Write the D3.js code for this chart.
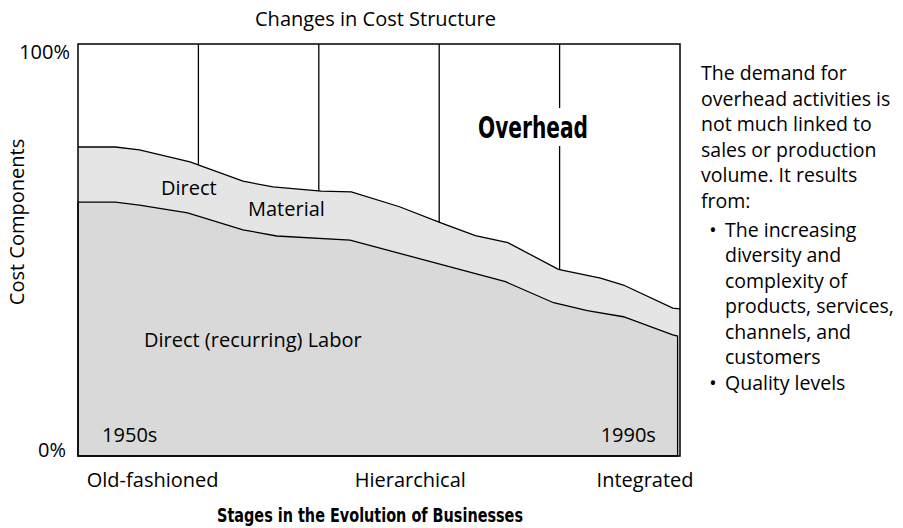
<!DOCTYPE html>
<html>
<head>
<meta charset="utf-8">
<script src="https://cdn.jsdelivr.net/npm/d3@7"></script>
<style>
  html, body { margin: 0; padding: 0; background: #fff; }
  text { font-family: "Open Sans", sans-serif; fill: #000; }
  .narrow { font-family: "Liberation Sans Narrow", "DejaVu Sans Condensed", sans-serif; font-weight: bold; font-stretch: condensed; }
</style>
</head>
<body>
<div id="chart"></div>
<script>
// share of costs (%), x is the year
const materialYears = [1950, 1953.1, 1955.1, 1959.3, 1963.7, 1966.2, 1970.2, 1972.7, 1976.7, 1980.2, 1983.0, 1985.7, 1989.9, 1993.4, 1995.3, 1999.4, 2000];
const materialTop   = [75.0, 75.0, 74.3, 71.4, 66.7, 65.3, 64.3, 64.1, 60.5, 56.5, 53.5, 51.8, 45.3, 43.2, 41.5, 35.9, 35.7];

const laborYears = [1950, 1953.1, 1955.1, 1959.1, 1963.7, 1966.5, 1972.6, 1985.5, 1989.5, 1992.3, 1995.3, 1999.4, 1999.8];
const laborTop   = [61.6, 61.6, 60.9, 59.0, 54.9, 53.4, 52.4, 42.3, 37.2, 35.3, 33.8, 29.4, 29.1];

const decades = [1960, 1970, 1980, 1990];
const yTicks = [100, 0];
const stages = ["Old-fashioned", "Hierarchical", "Integrated"];
const stageYears = [1956.2, 1977.6, 1997.1];

const noteLines = [
  "The demand for",
  "overhead activities is",
  "not much linked to",
  "sales or production",
  "volume.  It results",
  "from:"
];
const bulletLines = [
  ["The increasing", "diversity and", "complexity of", "products, services,", "channels, and", "customers"],
  ["Quality levels"]
];

const width = 903, height = 528;
const svg = d3.select("#chart").append("svg").attr("width", width).attr("height", height);

const x = d3.scaleLinear().domain([1950, 2000]).range([78, 680]);
const y = d3.scaleLinear().domain([0, 100]).range([456, 44]);

const material = materialYears.map((yr, i) => ({ yr, v: materialTop[i] }));
const labor = laborYears.map((yr, i) => ({ yr, v: laborTop[i] }));

const area = d3.area().x(d => x(d.yr)).y0(y(0)).y1(d => y(d.v));
const line = d3.line().x(d => x(d.yr)).y(d => y(d.v));

svg.append("path").datum(material).attr("d", area).attr("fill", "#e5e5e5");
svg.append("path").datum(labor).attr("d", area + "")
  .attr("d", area(labor) + "Z")
  .attr("fill", "#d9d9d9").attr("stroke", "#000").attr("stroke-width", 1.3);
svg.append("path").datum(material).attr("d", line)
  .attr("fill", "none").attr("stroke", "#000").attr("stroke-width", 1.3);

// decade lines run from the top down to the material curve
const materialAt = yr => {
  const i = d3.bisectLeft(materialYears, yr);
  const a = material[i - 1], b = material[i];
  return a.v + (b.v - a.v) * (yr - a.yr) / (b.yr - a.yr);
};
svg.append("g").selectAll("line").data(decades).join("line")
  .attr("x1", d => x(d)).attr("x2", d => x(d))
  .attr("y1", y(100)).attr("y2", d => y(materialAt(d)))
  .attr("stroke", "#000").attr("stroke-width", 1.3);

svg.append("rect")
  .attr("x", x(1950)).attr("y", y(100))
  .attr("width", x(2000) - x(1950)).attr("height", y(0) - y(100))
  .attr("fill", "none").attr("stroke", "#000").attr("stroke-width", 1.5);

// Overhead label knocks out the line behind it
svg.append("rect").attr("x", 472).attr("y", 108).attr("width", 122).attr("height", 38).attr("fill", "#fff");
svg.append("text").attr("class", "narrow").attr("x", 478).attr("y", 138.3)
  .attr("font-size", 30).attr("textLength", 110).attr("lengthAdjust", "spacingAndGlyphs")
  .text("Overhead");

svg.append("text").attr("x", 375.5).attr("y", 26).attr("text-anchor", "middle")
  .attr("font-size", 20).text("Changes in Cost Structure");

svg.append("g").selectAll("text").data(yTicks).join("text")
  .attr("x", d => d === 100 ? 70 : 66)
  .attr("y", d => y(d) + (d === 100 ? 15 : 1))
  .attr("text-anchor", "end").attr("font-size", 20)
  .text(d => d + "%");

svg.append("text").attr("transform", "translate(23.5,222) rotate(-90)")
  .attr("text-anchor", "middle").attr("font-size", 20).text("Cost Components");

svg.append("g").selectAll("text").data(stages).join("text")
  .attr("x", (d, i) => x(stageYears[i])).attr("y", 487)
  .attr("text-anchor", "middle").attr("font-size", 20).text(d => d);

svg.append("text").attr("class", "narrow").attr("x", 370).attr("y", 521.7)
  .attr("text-anchor", "middle").attr("font-size", 20)
  .attr("textLength", 306).attr("lengthAdjust", "spacingAndGlyphs")
  .text("Stages in the Evolution of Businesses");

svg.append("text").attr("x", 161).attr("y", 195).attr("font-size", 20).text("Direct");
svg.append("text").attr("x", 248).attr("y", 215.7).attr("font-size", 20).text("Material");
svg.append("text").attr("x", 144).attr("y", 346.7).attr("font-size", 20).text("Direct (recurring) Labor");

svg.append("text").attr("x", x(1952)).attr("y", 441.7).attr("font-size", 20).text("1950s");
svg.append("text").attr("x", x(1998)).attr("y", 441.7).attr("text-anchor", "end").attr("font-size", 20).text("1990s");

// note on the right
const note = svg.append("g").attr("font-size", 19.5);
let ly = 80;
noteLines.forEach(t => {
  note.append("text").attr("x", 701).attr("y", ly).text(t);
  ly += 25.5;
});
ly += 3.5;
bulletLines.forEach(group => {
  group.forEach((t, j) => {
    if (j === 0) note.append("text").attr("x", 713).attr("y", ly).attr("text-anchor", "middle").text("•");
    note.append("text").attr("x", 725).attr("y", ly).text(t);
    ly += 25.5;
  });
});
</script>
</body>
</html>
